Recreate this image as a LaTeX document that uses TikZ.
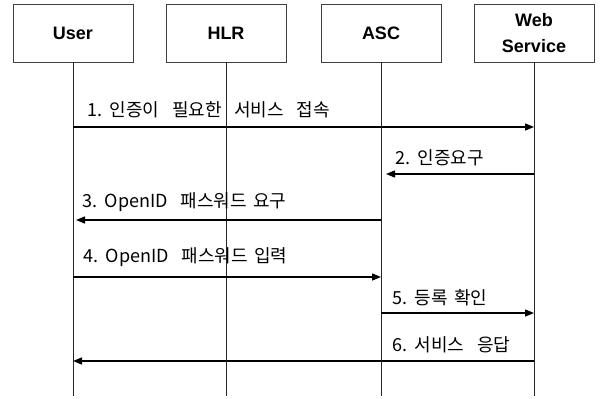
\documentclass[tikz,border=0pt]{standalone}
\usepackage{fontspec}
\usepackage{tikz}
\usetikzlibrary{arrows.meta}
\setmainfont{Liberation Sans}
\newfontfamily\krfont{Noto Sans CJK KR}
\newcommand\krset{\fontsize{18}{20}\krfont\spaceskip=0.35em\relax}

\begin{document}
\begin{tikzpicture}[x=1pt, y=-1pt,
    actor/.style={draw=black!75, line width=0.9pt, minimum width=120pt, minimum height=58pt,
        inner sep=0pt, align=center, font=\fontsize{18}{26}\selectfont\bfseries},
    life/.style={draw=black!85, line width=0.9pt},
    msg/.style={line width=1.4pt, -{Triangle[length=9pt,width=7pt]}},
    lbl/.style={anchor=west, inner sep=0pt, font=\krset}]
\useasboundingbox (0,0) rectangle (600,399);

% participants
\node[actor] (user) at (73,33) {User};
\node[actor] (hlr) at (226,33) {HLR};
\node[actor] (asc) at (381,33) {ASC};
\node[actor] (web) at (534,33) {Web\\Service};

% lifelines
\coordinate (bottom) at (0,396);
\draw[life] (user) -- (user |- bottom);
\draw[life] (hlr) -- (hlr |- bottom);
\draw[life] (asc) -- (asc |- bottom);
\draw[life] (web) -- (web |- bottom);

% messages
\coordinate (m1) at (0,127);
\coordinate (m2) at (0,174);
\coordinate (m3) at (0,220);
\coordinate (m4) at (0,277);
\coordinate (m5) at (0,313);
\coordinate (m6) at (0,361);

\draw[msg] (user |- m1) -- (web |- m1);
\node[lbl] (t1) at ([xshift=14pt, yshift=17pt]user |- m1) {1. 인증이\ \ 필요한\ \ 서비스\ \ 접속};

\draw[msg, shorten >=5pt] (web |- m2) -- (asc |- m2);
\node[lbl] (t2) at ([xshift=14pt, yshift=16pt]asc |- m2) {2. 인증요구};

\draw[msg, shorten >=3pt] (asc |- m3) -- (user |- m3);
\node[lbl] (t3) at ([xshift=9pt, yshift=18pt]user |- m3) {3. OpenID\ \ 패스워드 요구};

\draw[msg] (user |- m4) -- (asc |- m4);
\node[lbl] (t4) at ([xshift=10pt, yshift=20pt]user |- m4) {4. OpenID\ \ 패스워드 입력};

\draw[msg] (asc |- m5) -- (web |- m5);
\node[lbl] (t5) at ([xshift=11pt, yshift=15pt]asc |- m5) {5. 등록 확인};

\draw[msg] (web |- m6) -- (user |- m6);
\node[lbl] (t6) at ([xshift=11pt, yshift=16pt]asc |- m6) {6. 서비스\ \ 응답};
\end{tikzpicture}
\end{document}
